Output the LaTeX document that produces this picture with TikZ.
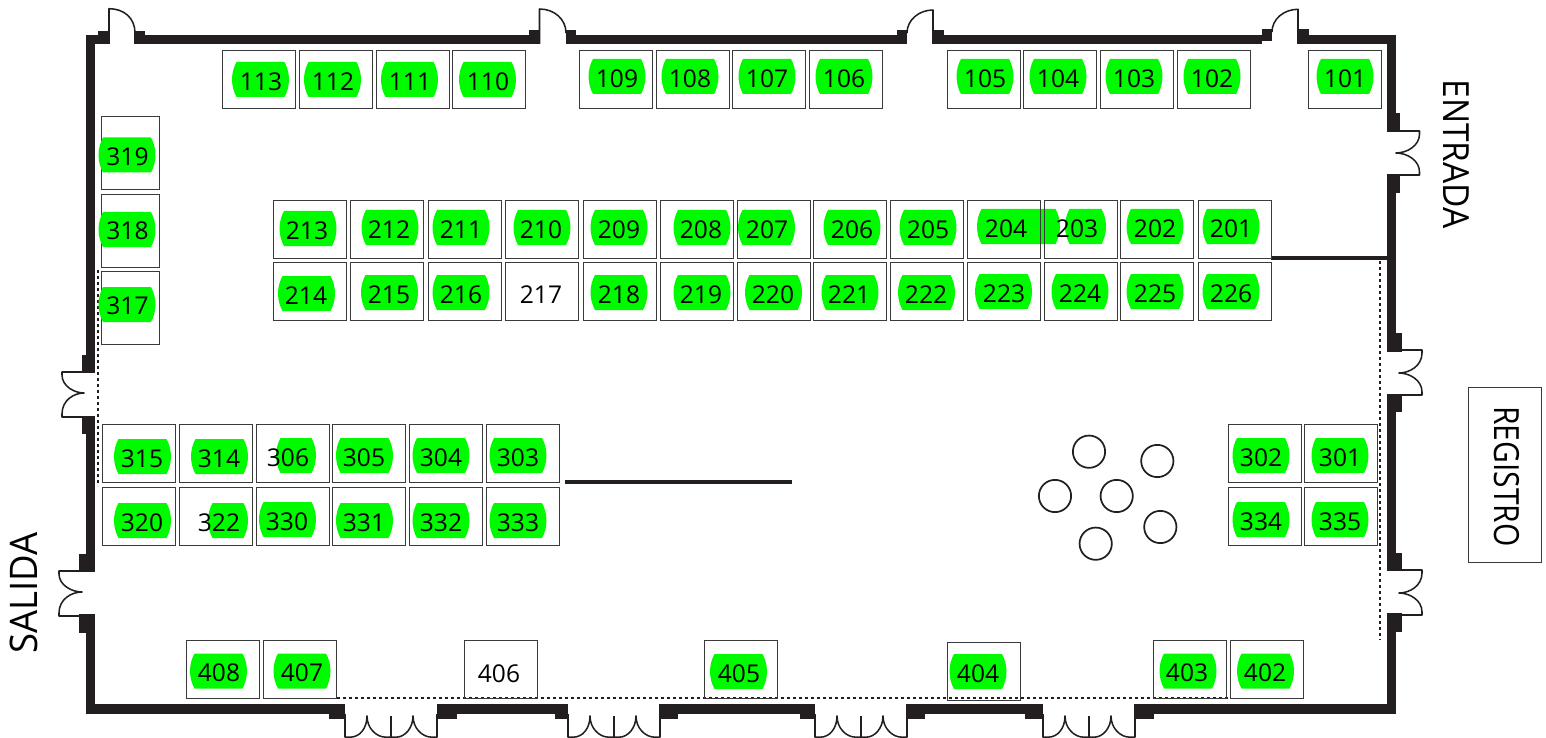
\documentclass[tikz,border=0pt]{standalone}
\usepackage{fontspec}
\setmainfont{Open Sans}
\newfontfamily\regfont[FakeStretch=0.865]{Open Sans}
\newfontfamily\entfont[FakeStretch=0.93]{Open Sans}
\newfontfamily\salfont[FakeStretch=0.96]{Open Sans}
\definecolor{wallc}{HTML}{231F20}
\definecolor{boxc}{HTML}{3A3A3A}
\definecolor{pillc}{HTML}{00FA00}
\tikzset{
  px/.style={x=0.75pt,y=-0.75pt},
  standbox/.style={draw=boxc,line width=0.95pt,fill=none,inner sep=0pt,outer sep=0pt,anchor=north west,minimum width=54.5pt,minimum height=43.5pt,xshift=0.375pt,yshift=-0.375pt},
  sidebox/.style={standbox,minimum width=43.5pt,minimum height=54.5pt},
  stdlabel/.style={inner sep=0pt,font=\fontsize{18.4pt}{18.4pt}\selectfont,text height=13.7pt,text depth=0pt,text=black},
  wallfill/.style={fill=wallc,draw=none},
  doorline/.style={draw=wallc,line width=1.15pt,line join=round,fill=none},
  dotline/.style={draw=wallc,line width=1.5pt,dash pattern=on 2.1pt off 2.4pt},
  tablecirc/.style={circle,draw=wallc,line width=1.3pt,inner sep=0pt,minimum size=24.2pt},
  pillshape/.style={fill=pillc,draw=none},
  bigtext/.style={inner sep=0pt,text=black}
}
% pill: centre x, centre y, width
\newcommand{\pillat}[3]{%
  \pgfmathsetmacro{\pa}{#1-#3/2}\pgfmathsetmacro{\pb}{#1+#3/2}%
  \fill[pillshape] ({\pa+4.5},{#2-17.5}) -- ({\pb-4.5},{#2-17.5})
    .. controls ({\pb-2},{#2-13}) and ({\pb},{#2-7}) .. (\pb,#2)
    .. controls ({\pb},{#2+7}) and ({\pb-2},{#2+13}) .. ({\pb-4.5},{#2+17.5})
    -- ({\pa+4.5},{#2+17.5})
    .. controls ({\pa+2},{#2+13}) and ({\pa},{#2+7}) .. (\pa,#2)
    .. controls ({\pa},{#2-7}) and ({\pa+2},{#2-13}) .. ({\pa+4.5},{#2-17.5}) -- cycle;}
% stand: number, box x, box y, digit centre x, digit centre y, pill centre x, pill width
\newcommand{\stand}[7]{%
  \node[standbox] (box#1) at (#2,#3) {};
  \pillat{#6}{#5-1.5}{#7}
  \node[stdlabel] (lab#1) at (#4,#5) {#1};}
\newcommand{\plainstand}[5]{%
  \node[standbox] (box#1) at (#2,#3) {};
  \node[stdlabel] (lab#1) at (#4,#5) {#1};}
\newcommand{\sidestand}[5]{%
  \node[sidebox] (box#1) at (#2,#3) {};
  \pillat{#4-0.5}{#5-1}{57}
  \node[stdlabel] (lab#1) at (#4,#5) {#1};}
\newcommand{\wall}[4]{\fill[wallfill] (#1,#2) rectangle (#3,#4);}
% double door on a side wall: inner x, cusp x, outer x, top y, middle y, bottom y
\newcommand{\sidedoor}[6]{%
  \pgfmathsetmacro{\cxa}{#3+0.55*(#2-#3)}%
  \draw[doorline] (#1,#4) -- (#3,#4) -- (#3,{#4+3})
    .. controls (#3,{#5-7}) and (\cxa,#5) .. (#2,#5)
    .. controls (\cxa,#5) and (#3,{#5+7}) .. (#3,{#6-3}) -- (#3,#6) -- (#1,#6);}
% double door in bottom wall: left x
\newcommand{\bottomdoor}[1]{%
  \draw[doorline] ({#1},714) -- ({#1},737.2) -- ({#1+5},737.2)
    .. controls ({#1+15},737.2) and ({#1+22},728) .. ({#1+22},716)
    .. controls ({#1+22},728) and ({#1+31},737.2) .. ({#1+41},737.2) -- ({#1+46},737.2) -- ({#1+46},716)
    ({#1+46},737.2) -- ({#1+51},737.2)
    .. controls ({#1+60},737.2) and ({#1+68},728) .. ({#1+68},716)
    .. controls ({#1+68},728) and ({#1+77},737.2) .. ({#1+87},737.2) -- ({#1+92},737.2) -- ({#1+92},714);}
\begin{document}
\begin{tikzpicture}[px]
\useasboundingbox (0,0) rectangle (1546,738);
\clip (0,0) rectangle (1546,738);
% ---- walls
\wall{86}{35}{110}{44}\wall{134}{35}{540}{44}\wall{566}{35}{907}{44}\wall{932}{35}{1262}{44}\wall{1297}{35}{1396}{44}
\wall{98}{31}{110}{44}\wall{134}{31}{145}{44}\wall{529}{30}{540}{44}\wall{566}{30}{576}{44}
\wall{897}{30}{907}{44}\wall{932}{30}{944}{44}\wall{1262}{29}{1272}{41}\wall{1297}{29}{1309}{44}
\wall{86}{35}{95}{373}\wall{86}{416}{95}{572}\wall{86}{614}{95}{714}
\wall{82}{355}{95}{373}\wall{82}{416}{95}{434}\wall{79}{554}{95}{572}\wall{79}{614}{95}{633}
\wall{1387}{35}{1396}{132}\wall{1387}{174}{1396}{352}\wall{1387}{394}{1396}{571}\wall{1387}{613}{1396}{714}
\wall{1387}{113}{1400}{132}\wall{1387}{174}{1400}{193}\wall{1387}{333}{1402}{352}\wall{1387}{394}{1402}{412}
\wall{1387}{553}{1402}{571}\wall{1387}{613}{1402}{632}
\wall{86}{704}{345}{714}\wall{437}{704}{568}{714}\wall{659}{704}{815}{714}\wall{907}{704}{1043}{714}\wall{1135}{704}{1396}{714}
\wall{329}{704}{345}{719}\wall{437}{704}{457}{719}\wall{555}{704}{568}{719}\wall{659}{704}{678}{719}
\wall{800}{704}{815}{719}\wall{906}{704}{925}{719}\wall{1025}{704}{1043}{719}\wall{1134}{704}{1154}{719}
\wall{1271}{256}{1387}{260}
\wall{565}{480}{792}{484}
% ---- single doors, top wall
\draw[doorline] (109,44) -- (109,8.7) .. controls (124,8.7) and (135,18) .. (135,33);
\draw[doorline] (539.5,44) -- (539.5,9) .. controls (554,9) and (566,19) .. (566,33);
\draw[doorline] (933,44) -- (933,10) .. controls (919,10) and (907,20) .. (907,33);
\draw[doorline] (1298,44) -- (1298,9.3) .. controls (1284,9.3) and (1272,19) .. (1272,32);
% ---- double doors
\sidedoor{1396}{1396}{1419.5}{131}{153}{175}
\sidedoor{1402}{1399}{1422}{350}{373}{395}
\sidedoor{1402}{1399}{1422}{570}{593}{615}
\sidedoor{82}{84}{62}{372}{393}{417}
\sidedoor{79}{82}{59}{571}{592}{616}
\bottomdoor{345}\bottomdoor{568}\bottomdoor{815}\bottomdoor{1043}
% ---- dotted lines
\draw[dotline] (98,270) -- (98,486);
\draw[dotline] (1380,261) -- (1380,640);
\draw[dotline] (337,698) -- (1230,698);
% ---- stand 204 pill sits under the stand frames
\pillat{1018.5}{226.5}{83}
% ---- top row
\stand{113}{222}{50}{261}{81}{260.5}{57}
\stand{112}{299}{50}{333}{81}{332.5}{57}
\stand{111}{376}{50}{410}{81}{409.5}{57}
\stand{110}{452}{50}{488}{81}{487.5}{57}
\stand{109}{579}{50}{617}{78}{617}{57}
\stand{108}{656}{50}{690}{78}{690}{57}
\stand{107}{732}{50}{767}{78}{767}{57}
\stand{106}{809}{50}{844}{78}{844}{57}
\stand{105}{947}{50}{985}{78}{985}{57}
\stand{104}{1023}{50}{1058}{78}{1058}{57}
\stand{103}{1100}{50}{1134}{78}{1134}{57}
\stand{102}{1177}{50}{1212}{78}{1212}{57}
\stand{101}{1308}{50}{1345}{78}{1345}{57}
% ---- left column
\sidestand{319}{101}{116}{127.5}{156}
\sidestand{318}{101}{194}{127.5}{230.5}
\sidestand{317}{101}{271}{127.5}{305.5}
% ---- second and third rows
\stand{213}{273}{200}{307}{230}{308}{57}
\stand{212}{350}{200}{389}{229}{390}{57}
\stand{211}{428}{200}{461}{229}{461}{57}
\stand{210}{505}{200}{541}{229}{542}{57}
\stand{209}{583}{200}{619}{229}{619}{57}
\stand{208}{660}{200}{701}{229}{702}{57}
\stand{207}{737}{200}{767}{229}{766.5}{57}
\stand{206}{813}{200}{852}{229}{852}{57}
\stand{205}{890}{200}{928}{229}{928}{57}
\plainstand{204}{967}{200}{1006}{228}
\stand{203}{1044}{200}{1077}{228}{1085.5}{41}
\stand{202}{1120}{200}{1155}{228}{1155}{57}
\stand{201}{1198}{200}{1231}{228}{1231}{57}
\stand{214}{273}{262}{306}{295}{306.5}{57}
\stand{215}{350}{262}{389}{294}{389.5}{57}
\stand{216}{428}{262}{461}{294}{461}{57}
\plainstand{217}{505}{262}{541}{294}
\stand{218}{583}{262}{619}{294}{619}{57}
\stand{219}{660}{262}{701}{294}{702}{57}
\stand{220}{737}{262}{773}{294}{773.5}{57}
\stand{221}{813}{262}{849}{294}{850}{57}
\stand{222}{890}{262}{926}{294}{926.5}{57}
\stand{223}{967}{262}{1004}{293}{1003.5}{57}
\stand{224}{1044}{262}{1080}{293}{1080}{57}
\stand{225}{1120}{262}{1155}{293}{1155}{57}
\stand{226}{1198}{262}{1231}{293}{1231}{57}
% ---- fourth and fifth rows
\stand{315}{102}{424}{142}{458}{142.5}{57}
\stand{314}{179}{424}{219}{458}{219.5}{57}
\stand{306}{256}{424}{288}{457}{296}{40}
\stand{305}{332}{424}{364}{457}{364.5}{57}
\stand{304}{409}{424}{441}{457}{441}{57}
\stand{303}{486}{424}{518}{457}{518}{57}
\stand{320}{102}{487}{142}{522}{142.5}{57}
\stand{322}{179}{487}{219}{522}{228}{40}
\stand{330}{256}{487}{287}{521}{287.5}{57}
\stand{331}{332}{487}{364}{522}{364.5}{57}
\stand{332}{409}{487}{441}{522}{441}{57}
\stand{333}{486}{487}{518}{522}{518}{57}
\stand{302}{1228}{424}{1261}{457}{1261}{57}
\stand{301}{1304}{424}{1340}{457}{1340}{57}
\stand{334}{1228}{487}{1261}{521}{1261}{57}
\stand{335}{1304}{487}{1340}{521}{1340}{57}
% ---- bottom row
\stand{408}{186}{640}{219}{672.5}{218.5}{57}
\stand{407}{263}{640}{302}{672.5}{302}{57}
\plainstand{406}{464}{640}{499}{673}
\stand{405}{704}{640}{739}{673}{738.5}{57}
\stand{404}{947}{642}{978}{673}{978}{57}
\stand{403}{1153}{640}{1187}{672.5}{1188}{57}
\stand{402}{1230}{640}{1265}{672.5}{1265.5}{57}
% ---- round tables
\node[tablecirc] (t1) at (1089,451.7) {};
\node[tablecirc] (t2) at (1157.3,461) {};
\node[tablecirc] (t3) at (1055,496) {};
\node[tablecirc] (t4) at (1116.7,496) {};
\node[tablecirc] (t5) at (1160.3,527) {};
\node[tablecirc] (t6) at (1095.7,543.7) {};
% ---- registro and big labels
\node[draw=boxc,line width=0.95pt,inner sep=0pt,outer sep=0pt,minimum width=54.75pt,minimum height=131.25pt] (regbox) at (1505,475) {};
\node[bigtext,rotate=-90,font=\regfont\fontsize{26pt}{26pt}\selectfont,text height=18.75pt,text depth=0pt] (registro) at (1506.5,476.5) {REGISTRO};
\node[bigtext,rotate=-90,font=\entfont\fontsize{27pt}{27pt}\selectfont,text height=19.5pt,text depth=0pt] (entrada) at (1456,154) {ENTRADA};
\node[bigtext,rotate=90,font=\salfont\fontsize{28.5pt}{28.5pt}\selectfont,text height=20.6pt,text depth=0pt] (salida) at (24,593) {SALIDA};
\end{tikzpicture}
\end{document}
